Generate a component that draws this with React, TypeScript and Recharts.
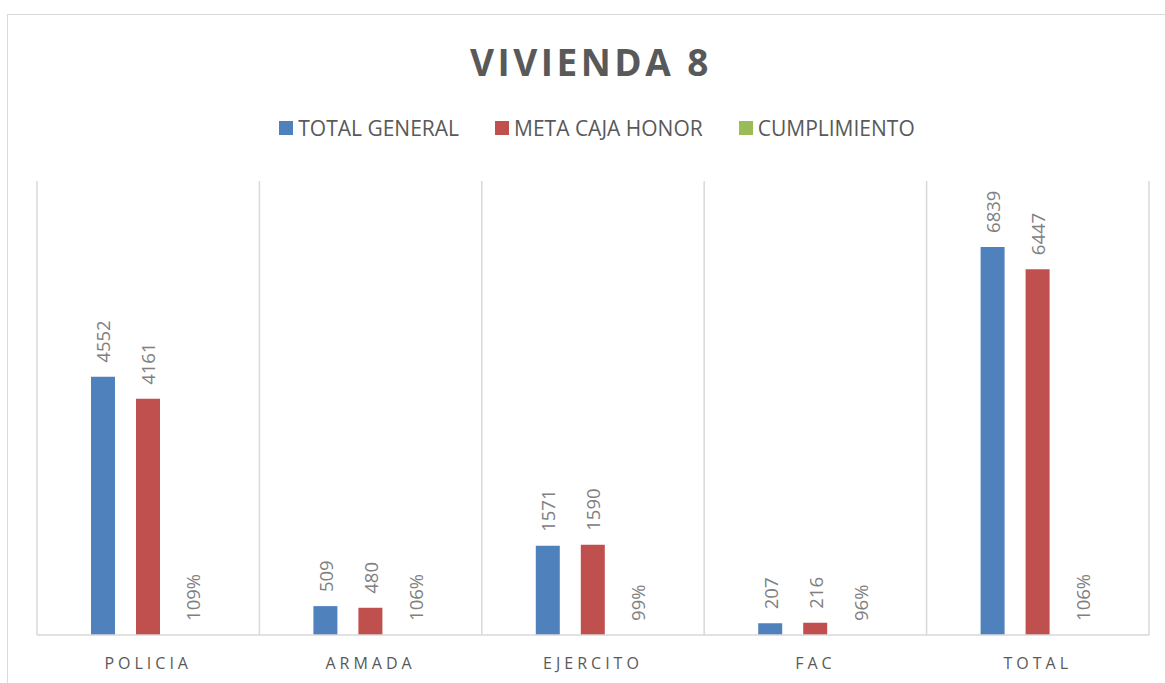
import { BarChart, Bar, XAxis, YAxis, CartesianGrid, LabelList } from "recharts";

const categories = ["POLICIA", "ARMADA", "EJERCITO", "FAC", "TOTAL"];
const totalGeneral = [4552, 509, 1571, 207, 6839];
const metaCajaHonor = [4161, 480, 1590, 216, 6447];
const cumplimiento = [1.09, 1.06, 0.99, 0.96, 1.06];

const data = categories.map((name, i) => ({
    name,
    total: totalGeneral[i],
    meta: metaCajaHonor[i],
    cumpl: cumplimiento[i],
}));

const FONT = "'Open Sans', sans-serif";
const GRID = "#d9d9d9";

const legendItems = [
    { label: "TOTAL GENERAL", color: "#4f81bd" },
    { label: "META CAJA HONOR", color: "#c0504d" },
    { label: "CUMPLIMIENTO", color: "#9bbb59" },
];

function makeLabel(pct: boolean) {
    return (props: any) => {
        const { x, y, width, value } = props;
        const cx = Number(x) + Number(width) / 2;
        const ty = Number(y) - 14;
        const txt = pct ? Math.round(Number(value) * 100) + "%" : String(value);
        return (
            <text
                x={cx}
                y={ty}
                transform={`rotate(-90, ${cx}, ${ty})`}
                textAnchor="start"
                dominantBaseline="central"
                fill="#808080"
                fontSize={18.5}
                fontFamily={FONT}
            >
                {txt}
            </text>
        );
    };
}

export default function App() {
    return (
        <div style={{ position: "absolute", left: 0, top: 0, width: 1165, height: 683, overflow: "hidden", background: "#fff" }}>
            <div style={{ position: "absolute", left: 7, top: 14, width: 1170, height: 680, border: `1px solid ${GRID}` }} />
            <div
                style={{
                    position: "absolute",
                    left: 0,
                    width: 1182,
                    top: 37,
                    textAlign: "center",
                    fontFamily: FONT,
                    fontWeight: 700,
                    fontSize: 37,
                    letterSpacing: 3.5,
                    color: "#595959",
                    lineHeight: "50px",
                }}
            >
                VIVIENDA 8
            </div>
            {/* legend */}
            <div
                style={{
                    position: "absolute",
                    top: 114,
                    left: 0,
                    width: 1194,
                    display: "flex",
                    justifyContent: "center",
                    gap: 36,
                    fontFamily: FONT,
                    fontSize: 21,
                    lineHeight: "28px",
                    color: "#595959",
                }}
            >
                {legendItems.map((it) => (
                    <div key={it.label} style={{ display: "flex", alignItems: "center" }}>
                        <span style={{ width: 14, height: 14, background: it.color, display: "inline-block", marginRight: 5 }} />
                        <span>{it.label}</span>
                    </div>
                ))}
            </div>
            <div style={{ position: "absolute", left: 0, top: 0 }}>
                <BarChart
                    width={1165}
                    height={683}
                    data={data}
                    margin={{ top: 181, left: 37, right: 16, bottom: 0 }}
                    barSize={24}
                    barGap={21}
                >
                    <CartesianGrid
                        horizontal={false}
                        stroke={GRID}
                        strokeWidth={1.5}
                        verticalCoordinatesGenerator={({ offset }: any) =>
                            categories.map((_, i) => offset.left + (i * offset.width) / categories.length).concat(offset.left + offset.width)
                        }
                    />
                    <XAxis
                        dataKey="name"
                        height={48}
                        axisLine={{ stroke: GRID, strokeWidth: 1.5 }}
                        tickLine={false}
                        tick={{ fill: "#595959", fontSize: 16, fontFamily: FONT, letterSpacing: 4 }}
                        tickMargin={17}
                    />
                    <YAxis hide domain={[0, 8000]} />
                    <Bar dataKey="total" fill="#4f81bd" isAnimationActive={false}>
                        <LabelList dataKey="total" content={makeLabel(false)} />
                    </Bar>
                    <Bar dataKey="meta" fill="#c0504d" isAnimationActive={false}>
                        <LabelList dataKey="meta" content={makeLabel(false)} />
                    </Bar>
                    <Bar dataKey="cumpl" fill="#9bbb59" isAnimationActive={false}>
                        <LabelList dataKey="cumpl" content={makeLabel(true)} />
                    </Bar>
                </BarChart>
            </div>
        </div>
    );
}
